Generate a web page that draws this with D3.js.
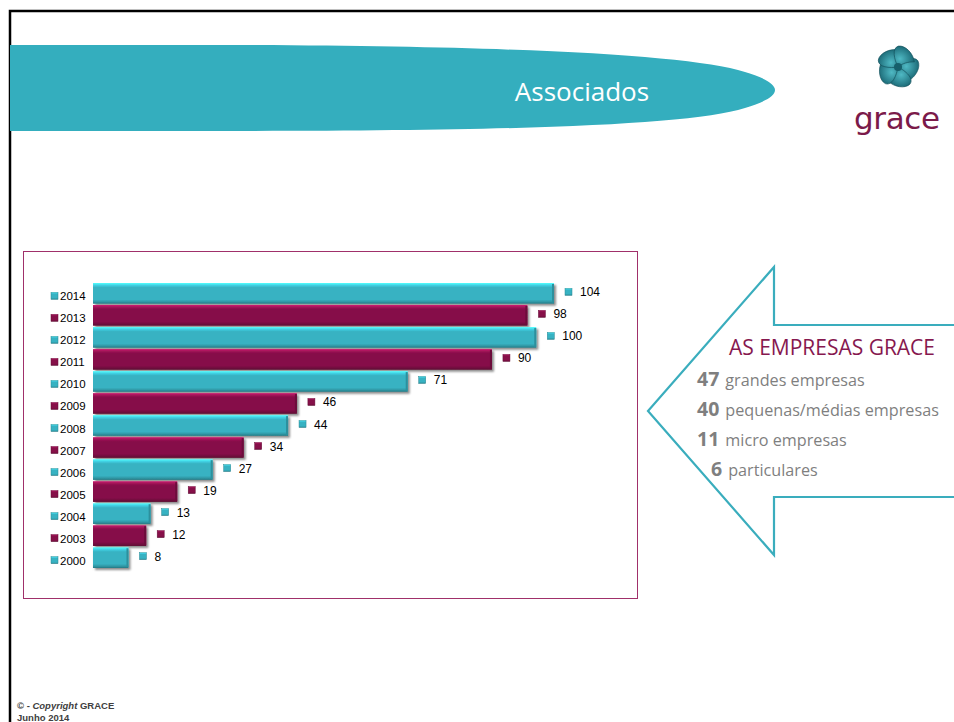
<!DOCTYPE html>
<html>
<head>
<meta charset="utf-8">
<script src="https://cdn.jsdelivr.net/npm/d3@7"></script>
<style>
  html, body { margin: 0; padding: 0; background: #fff; }
  svg { display: block; }
</style>
</head>
<body>
<div id="canvas"></div>
<script>
// data
var years = ["2014", "2013", "2012", "2011", "2010", "2009", "2008", "2007", "2006", "2005", "2004", "2003", "2000"];
var associados = [104, 98, 100, 90, 71, 46, 44, 34, 27, 19, 13, 12, 8];
var tipoNums = ["47", "40", "11", "6"];
var tipoLabels = ["grandes empresas", "pequenas/médias empresas", "micro empresas", "particulares"];

var W = 954, H = 722;
var teal = "#37b2c2", plum = "#861049";

var svg = d3.select('#canvas').append('svg')
  .attr('width', W)
  .attr('height', H);

var defs = svg.append('defs');

function barGrad(id, c) {
  var g = defs.append('linearGradient').attr('id', id)
    .attr('x1', 0).attr('y1', 0).attr('x2', 0).attr('y2', 1);
  var base = d3.color(c);
  var stops = [
    [0, base.brighter(1.2)],
    [0.12, base.brighter(0.4)],
    [0.22, base],
    [0.8, base],
    [0.92, base.darker(0.5)],
    [1, base.darker(1.1)]
  ];
  stops.forEach(function (s) {
    g.append('stop').attr('offset', s[0]).attr('stop-color', s[1].formatHex());
  });
}
barGrad('gTeal', teal);
barGrad('gPlum', plum);

var shadow = defs.append('filter').attr('id', 'shadow')
  .attr('x', '-5%').attr('y', '-20%').attr('width', '115%').attr('height', '160%');
shadow.append('feGaussianBlur').attr('in', 'SourceAlpha').attr('stdDeviation', 1.2);
shadow.append('feOffset').attr('dx', 1.5).attr('dy', 1.5).attr('result', 'ob');
shadow.append('feComponentTransfer').append('feFuncA').attr('type', 'linear').attr('slope', 0.45);
var merge = shadow.append('feMerge');
merge.append('feMergeNode');
merge.append('feMergeNode').attr('in', 'SourceGraphic');

// slide frame
svg.append('path')
  .attr('d', 'M10,' + H + ' V11 H' + W)
  .attr('fill', 'none').attr('stroke', '#000').attr('stroke-width', 2.5);

// title banner
svg.append('path')
  .attr('d', 'M10,45 H230 C520,46 690,55 745,72 C785,84 785,96 745,108 C690,125 520,131 230,131 H10 Z')
  .attr('fill', '#34aebe');
svg.append('text')
  .attr('x', 582).attr('y', 101)
  .attr('text-anchor', 'middle')
  .attr('font-family', 'Open Sans, sans-serif')
  .attr('font-size', 26)
  .attr('fill', '#fff')
  .text('Associados');

// logo
var logo = svg.append('g').attr('transform', 'translate(898,67)');
var lg = defs.append('radialGradient').attr('id', 'gLogo').attr('cx', '40%').attr('cy', '35%').attr('r', '70%');
lg.append('stop').attr('offset', 0).attr('stop-color', '#4fb9c4');
lg.append('stop').attr('offset', 1).attr('stop-color', '#145e6b');
for (var k = 0; k < 5; k++) {
  logo.append('path')
    .attr('transform', 'rotate(' + (k * 72) + ')')
    .attr('d', 'M0,0 C6,-6 16,-12 20,-6 C23,0 18,10 10,14 C8,8 5,3 0,0 Z')
    .attr('fill', 'url(#gLogo)')
    .attr('stroke', '#104f5a').attr('stroke-width', 0.6);
}
logo.append('circle').attr('r', 4).attr('fill', '#165f6b');
svg.append('text')
  .attr('x', 897).attr('y', 129)
  .attr('text-anchor', 'middle')
  .attr('font-family', 'DejaVu Sans, sans-serif')
  .attr('font-size', 31)
  .attr('textLength', 86)
  .attr('fill', '#7b1a4a')
  .text('grace');

// chart box
svg.append('rect')
  .attr('x', 23.5).attr('y', 251.5).attr('width', 614).attr('height', 347)
  .attr('fill', '#fff').attr('stroke', '#a0306a').attr('stroke-width', 1);

var x = d3.scaleLinear().domain([0, 104]).range([93, 554]);
var y = d3.scaleBand().domain(years).range([283, 568]).paddingInner(0.06);

var rows = svg.append('g').selectAll('g').data(years).enter().append('g');

rows.append('rect')
  .attr('x', x(0))
  .attr('y', function (d) { return y(d); })
  .attr('width', function (d, i) { return x(associados[i]) - x(0); })
  .attr('height', y.bandwidth())
  .attr('fill', function (d, i) { return i % 2 ? 'url(#gPlum)' : 'url(#gTeal)'; })
  .attr('filter', 'url(#shadow)');

// end face of each bar
rows.append('rect')
  .attr('x', function (d, i) { return x(associados[i]) - 2; })
  .attr('y', function (d) { return y(d) + 1; })
  .attr('width', 2)
  .attr('height', y.bandwidth() - 2)
  .attr('fill', function (d, i) { return d3.color(i % 2 ? plum : teal).darker(0.6); });

function marker(sel, cx, i) {
  sel.append('rect')
    .attr('x', cx).attr('width', 7).attr('height', 7)
    .attr('fill', i % 2 ? 'url(#gPlum)' : 'url(#gTeal)')
    .attr('stroke', d3.color(i % 2 ? plum : teal).darker(0.8)).attr('stroke-width', 0.5);
}

// year labels on the left and value labels at the bar ends
rows.each(function (d, i) {
  var g = d3.select(this);
  var cy = y(d) + y.bandwidth() / 2;
  marker(g.append('g').attr('transform', 'translate(0,' + (cy - 1) + ')'), 51, i);
  g.append('text')
    .attr('x', 60).attr('y', cy + 7)
    .attr('font-family', 'Liberation Sans, Arial, sans-serif')
    .attr('font-size', 11.5)
    .attr('fill', '#000')
    .text(d);
  var ex = x(associados[i]) + 11;
  marker(g.append('g').attr('transform', 'translate(0,' + (cy - 5) + ')'), ex, i);
  g.append('text')
    .attr('x', ex + 15).attr('y', cy + 3)
    .attr('font-family', 'Liberation Sans, Arial, sans-serif')
    .attr('font-size', 12)
    .attr('fill', '#000')
    .text(associados[i]);
});

// arrow on the right
svg.append('path')
  .attr('d', 'M' + (W + 2) + ',325 H774 V267 L648,411 L774,555 V497 H' + (W + 2))
  .attr('fill', 'none').attr('stroke', '#3aadbd').attr('stroke-width', 2.2)
  .attr('stroke-linejoin', 'miter');

svg.append('text')
  .attr('x', 729).attr('y', 355)
  .attr('font-family', 'Open Sans, sans-serif')
  .attr('font-size', 21)
  .attr('textLength', 206)
  .attr('fill', '#86184f')
  .text('AS EMPRESAS GRACE');

var lines = svg.append('g').selectAll('text').data(tipoNums).enter().append('text')
  .attr('x', function (d) { return d.length > 1 ? 697 : 711; })
  .attr('y', function (d, i) { return 386 + i * 30; })
  .attr('font-family', 'Open Sans, sans-serif')
  .attr('fill', '#7f7f7f');
lines.append('tspan').attr('font-weight', 'bold').attr('font-size', 19.5).text(function (d) { return d; });
lines.append('tspan').attr('font-size', 16.2).attr('dx', 6).text(function (d, i) { return tipoLabels[i]; });

// footer
var foot = svg.append('text')
  .attr('x', 17).attr('y', 709)
  .attr('font-family', 'Liberation Sans, Arial, sans-serif')
  .attr('font-size', 9.5).attr('font-weight', 'bold').attr('fill', '#404040');
foot.append('tspan').text('© - ');
foot.append('tspan').attr('font-style', 'italic').text('Copyright');
foot.append('tspan').text(' GRACE');
svg.append('text')
  .attr('x', 17).attr('y', 721)
  .attr('font-family', 'Liberation Sans, Arial, sans-serif')
  .attr('font-size', 9.5).attr('font-weight', 'bold').attr('fill', '#404040')
  .text('Junho 2014');
</script>
</body>
</html>
